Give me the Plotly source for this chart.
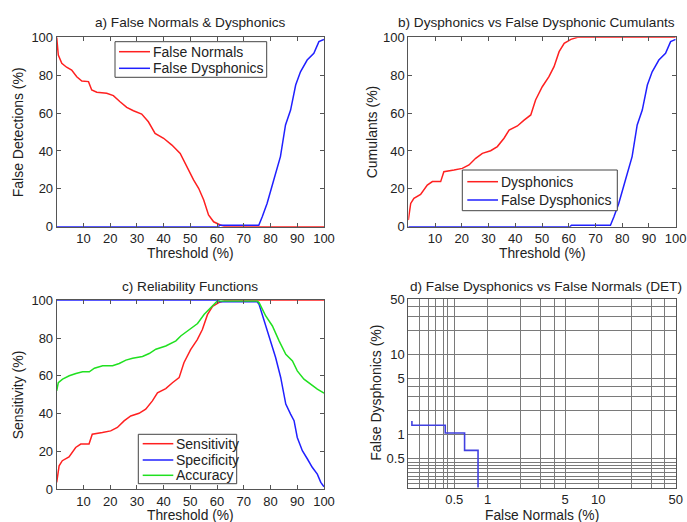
import math
import plotly.graph_objects as go

W, H = 687, 522

# ---------------- data ----------------
thr_ticks = [10, 20, 30, 40, 50, 60, 70, 80, 90, 100]
pct_ticks = [0, 20, 40, 60, 80, 100]

# a) False Normals
fn_x = [0, 0.6, 1.9, 3.7, 5.6, 7.5, 9.4, 11.9, 13.1, 15, 18.7, 21.2, 23.7, 26.2, 28.7,
        31.8, 34.3, 36.8, 40, 43.1, 46.2, 48.7, 51.2, 53.1, 55, 56.8, 58.7, 61.2, 63.1, 100]
fn_y = [100, 90.6, 86.3, 84.2, 82.7, 79.2, 76.9, 76.6, 72.2, 71, 70.4, 69.2, 66, 63, 61.2,
        59.5, 55.4, 49.3, 46.7, 43.1, 38.7, 31.7, 24.7, 20.3, 14.1, 6.2, 2.6, 0.9, 0, 0]

# a), b) False Dysphonics
fd_x = [0, 60.5, 61, 75.6, 76.9, 78.7, 81.2, 83.7, 85.6, 87.5, 89.4, 91.2, 93.7, 96.2, 98.1, 100]
fd_y = [0, 0, 0.8, 0.8, 5.3, 12.3, 24.7, 37, 53.7, 61.6, 74.8, 81.8, 88, 91.5, 97.7, 98.9]

# b) Dysphonics cumulant / c) Sensitivity
sens_x = [0, 0.9, 2.1, 4.6, 7.1, 9, 12.1, 13.3, 17.1, 20.2, 22.7, 25.2, 27.7, 30.8, 33.3,
          35.8, 37.7, 40.8, 43.3, 45.8, 47.6, 50.1, 52.6, 54.5, 56.4, 58.3, 60.8, 63.3, 100]
sens_y = [3.5, 12.3, 15, 17, 22, 23.8, 23.8, 29, 29.9, 30.8, 32.6, 36.1, 38.7, 40.1, 42.3,
          46.7, 51, 53.2, 56.3, 59, 66.9, 73.9, 79.2, 84.5, 92.4, 96.8, 98.9, 100, 100]

# c) Specificity
spec_x = [0, 60.5, 61, 75, 75.7, 78.2, 80.1, 81.9, 83.8, 85.7, 87.5, 88.8, 90, 91.9, 93.8,
          95.6, 97.5, 98.8, 100]
spec_y = [100, 100, 99.2, 99.2, 97.9, 86.4, 77.6, 69.7, 59.1, 45, 39.7, 36.2, 27.3, 20.3, 15.9,
          11.5, 7.9, 3.5, 1.2]

# c) Accuracy
acc_x = [0, 0.6, 2.2, 4.7, 7.2, 9.7, 12.2, 14.1, 17.2, 20.9, 23.4, 25.9, 28.4, 32.1, 34.6,
         37.1, 40.8, 44.6, 46.4, 49.6, 52.7, 55.2, 57.7, 60.1, 75, 75.7, 78.2, 80.7, 83.2,
         85.7, 88.2, 90, 92.5, 95, 97.5, 100]
acc_y = [52, 56.4, 58.2, 60, 61.2, 62.1, 62.1, 64, 65.3, 65.3, 66.5, 68.3, 69.3, 70.2, 71.8,
         74.1, 75.8, 78.5, 81.1, 84.7, 87.7, 92.6, 96.1, 99.6, 99.6, 98.8, 91.7, 86.4, 78.5,
         71.4, 67.9, 62.6, 58.2, 55.6, 52.9, 50.8]

# d) DET curve (False Normals % vs False Dysphonics %)
det_fn = [0.207, 0.414, 0.619, 0.819, 0.819]
det_fd = [1.48, 1.31, 1.05, 0.635, 0.2]

det_x_grid = [0.24, 0.29, 0.34, 0.40, 0.43, 0.5, 1, 2, 3, 4, 5, 10, 20, 30, 40, 50]
det_y_grid = [0.247, 0.272, 0.30, 0.334, 0.374, 0.412, 0.453, 0.5, 1, 2, 3, 4, 5, 10, 20, 30, 40, 50]
det_labels = {0.5: "0.5", 1: "1", 5: "5", 10: "10", 50: "50"}

legend_a = ["False Normals", "False Dysphonics"]
legend_b = ["Dysphonics", "False Dysphonics"]
legend_c = ["Sensitivity", "Specificity", "Accuracy"]

# ---------------- helpers ----------------
FONT = "Liberation Sans, Arial, sans-serif"
AX = "#555555"
TXT = "#222222"
RED, BLUE, GREEN = "#ff2020", "#2020ff", "#20e020"
LW = 1.5


def fx(x):
    return x / W


def fy(y):
    return 1 - y / H


boxes = {
    "a": (56.7, 37.3, 324.0, 226.7),
    "b": (408.3, 37.3, 675.7, 226.7),
    "c": (56.7, 300.3, 324.0, 489.0),
    "d": (408.3, 299.0, 675.7, 487.5),
}


def lin_axes(box, nx):
    x0, y0, x1, y1 = box
    common = dict(showline=True, linecolor=AX, linewidth=1, mirror="ticks",
                  ticks="inside", ticklen=4, tickcolor=AX, tickwidth=1,
                  showgrid=False, zeroline=False, automargin=False,
                  tickfont=dict(family=FONT, size=13, color=TXT))
    xa = dict(common, domain=[fx(x0), fx(x1)], range=[0, 100], tickvals=thr_ticks,
              anchor="y" + nx)
    ya = dict(common, domain=[fy(y1), fy(y0)], range=[0, 100], tickvals=pct_ticks,
              anchor="x" + nx)
    return xa, ya


fig = go.Figure()

# a)
fig.add_trace(go.Scatter(x=fn_x, y=fn_y, mode="lines", line=dict(color=RED, width=LW),
                         xaxis="x", yaxis="y"))
fig.add_trace(go.Scatter(x=fd_x, y=fd_y, mode="lines", line=dict(color=BLUE, width=LW),
                         xaxis="x", yaxis="y"))
# b)
fig.add_trace(go.Scatter(x=sens_x, y=sens_y, mode="lines", line=dict(color=RED, width=LW),
                         xaxis="x2", yaxis="y2"))
fig.add_trace(go.Scatter(x=fd_x, y=fd_y, mode="lines", line=dict(color=BLUE, width=LW),
                         xaxis="x2", yaxis="y2"))
# c)
fig.add_trace(go.Scatter(x=sens_x, y=sens_y, mode="lines", line=dict(color=RED, width=LW),
                         xaxis="x3", yaxis="y3"))
fig.add_trace(go.Scatter(x=spec_x, y=spec_y, mode="lines", line=dict(color=BLUE, width=LW),
                         xaxis="x3", yaxis="y3"))
fig.add_trace(go.Scatter(x=acc_x, y=acc_y, mode="lines", line=dict(color=GREEN, width=LW),
                         xaxis="x3", yaxis="y3"))
# d)
fig.add_trace(go.Scatter(x=det_fn, y=det_fd, mode="lines", line_shape="vh",
                         line=dict(color="#4040e0", width=1.6), xaxis="x4", yaxis="y4"))

xa1, ya1 = lin_axes(boxes["a"], "")
xa2, ya2 = lin_axes(boxes["b"], "2")
xa3, ya3 = lin_axes(boxes["c"], "3")
xa1["anchor"], ya1["anchor"] = "y", "x"

x0, y0, x1, y1 = boxes["d"]
det_common = dict(type="log", showline=True, linecolor=AX, linewidth=1, mirror=True,
                  ticks="", showgrid=True, gridcolor="#7a7a7a", gridwidth=1, zeroline=False,
                  automargin=False, tickfont=dict(family=FONT, size=13, color=TXT))
xa4 = dict(det_common, domain=[fx(x0), fx(x1)], range=[math.log10(0.192), math.log10(50)],
           tickvals=det_x_grid, ticktext=[det_labels.get(v, "") for v in det_x_grid], anchor="y4")
ya4 = dict(det_common, domain=[fy(y1), fy(y0)], range=[math.log10(0.218), math.log10(50)],
           tickvals=det_y_grid, ticktext=[det_labels.get(v, "") for v in det_y_grid], anchor="x4")

fig.update_layout(
    width=W, height=H, autosize=False,
    margin=dict(l=0, r=0, t=0, b=0, pad=0, autoexpand=False),
    paper_bgcolor="white", plot_bgcolor="white", showlegend=False,
    xaxis=xa1, yaxis=ya1, xaxis2=xa2, yaxis2=ya2, xaxis3=xa3, yaxis3=ya3,
    xaxis4=xa4, yaxis4=ya4,
    font=dict(family=FONT, color=TXT),
)


def add_text(t, x, y, ang=0, sz=14, anchor="center"):
    fig.add_annotation(text=t, x=fx(x), y=fy(y), xref="paper", yref="paper",
                       xanchor=anchor, yanchor="middle", showarrow=False, textangle=ang,
                       font=dict(family=FONT, size=sz, color=TXT))


texts = [
    ("a) False Normals & Dysphonics", 190.5, 22.7, 0, 13.6),
    ("b) Dysphonics vs False Dysphonic Cumulants", 536, 22.7, 0, 13.6),
    ("c) Reliability Functions", 190, 286, 0, 13.6),
    ("d) False Dysphonics vs False Normals (DET)", 546, 286, 0, 13.6),
    ("Threshold (%)", 190, 253, 0, 13.8),
    ("Threshold (%)", 542, 253, 0, 13.8),
    ("Threshold (%)", 190, 515, 0, 13.8),
    ("False Normals (%)", 542, 515, 0, 13.8),
    ("False Detections (%)", 18.3, 132, -90, 14),
    ("Cumulants (%)", 372.3, 132, -90, 14),
    ("Sensitivity (%)", 18.3, 395, -90, 14),
    ("False Dysphonics (%)", 375.7, 393, -90, 14),
]
for t, x, y, ang, sz in texts:
    add_text(t, x, y, ang, sz)


def draw_legend(box, names, colors, ys, line_x0, line_x1, text_x):
    bx0, by0, bx1, by1 = box
    fig.add_shape(type="rect", xref="paper", yref="paper",
                  x0=fx(bx0), x1=fx(bx1), y0=fy(by1), y1=fy(by0),
                  line=dict(color="#444", width=1), fillcolor="white", layer="above")
    for name, col, yy in zip(names, colors, ys):
        fig.add_shape(type="line", xref="paper", yref="paper",
                      x0=fx(line_x0), x1=fx(line_x1), y0=fy(yy), y1=fy(yy),
                      line=dict(color=col, width=LW), layer="above")
        add_text(name, text_x, yy, 0, 14, "left")


draw_legend((115, 41.7, 266.7, 77.3), legend_a, [RED, BLUE], [51.7, 68.3], 119, 150, 150.5)
draw_legend((462.3, 170, 617.3, 210.7), legend_b, [RED, BLUE], [181.7, 200], 467.3, 498, 499)
draw_legend((138.3, 434.3, 236.7, 483.7), legend_c, [RED, BLUE, GREEN],
            [443.7, 460, 475.3], 142.7, 173.3, 174)

fig.write_html("out.html")
